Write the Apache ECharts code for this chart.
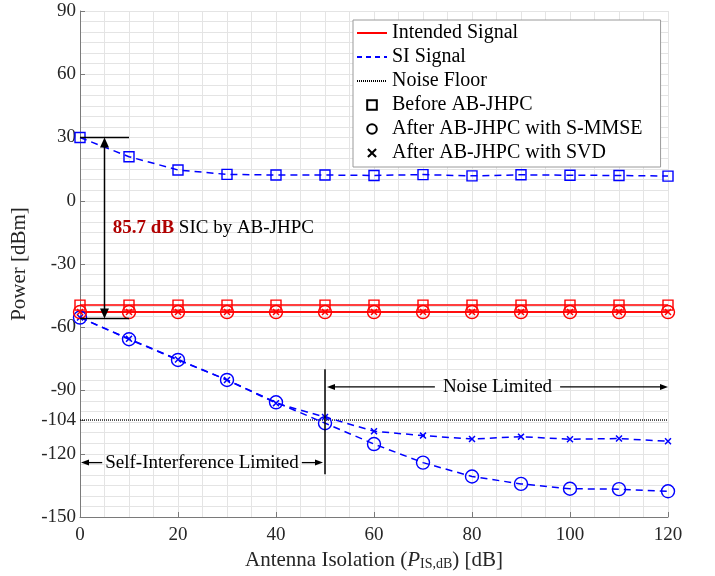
<!DOCTYPE html>
<html>
<head>
<meta charset="utf-8">
<script src="https://cdn.jsdelivr.net/npm/echarts@6/dist/echarts.min.js"></script>
<style>
html,body{margin:0;padding:0;background:#fff;}
#chart{width:715px;height:576px;}
</style>
</head>
<body>
<div id="chart"></div>
<script>
// ---------- data ----------
const isolation = [0, 10, 20, 30, 40, 50, 60, 70, 80, 90, 100, 110, 120];
const xTickLabels = [0, 20, 40, 60, 80, 100, 120];
const yTickLabels = [-150, -120, -104, -90, -60, -30, 0, 30, 60, 90];

const intendedBefore = [-49.5, -49.5, -49.5, -49.5, -49.5, -49.5, -49.5, -49.5, -49.5, -49.5, -49.5, -49.5, -49.5];
const intendedSMMSE  = [-52.8, -52.8, -52.8, -52.8, -52.8, -52.8, -52.8, -52.8, -52.8, -52.8, -52.8, -52.8, -52.8];
const intendedSVD    = [-52.8, -52.8, -52.8, -52.8, -52.8, -52.8, -52.8, -52.8, -52.8, -52.8, -52.8, -52.8, -52.8];
const siBefore = [30, 20.9, 14.6, 12.5, 12.2, 12.2, 12.0, 12.4, 11.8, 12.3, 12.1, 12.0, 11.7];
const siSMMSE  = [-55.4, -65.7, -75.5, -85.0, -95.6, -105.5, -115.4, -124.2, -130.8, -134.3, -136.6, -136.8, -137.8];
const siSVD    = [-55.4, -65.5, -75.3, -85.0, -96.0, -102.6, -109.3, -111.4, -113.0, -111.9, -113.1, -112.8, -114.1];
const noiseFloor = -104;

const legendNames = ['Intended Signal', 'SI Signal', 'Noise Floor', 'Before AB-JHPC', 'After AB-JHPC with S-MMSE', 'After AB-JHPC with SVD'];

// annotation anchors (data units)
const sicGain = '85.7 dB';
const sicTop = 30, sicBottom = -55.9, sicX = 5, sicCap = [0, 10];
const sicTextPos = [6.7, -13.1];
const boundaryX = 50, boundaryY = [-79.9, -129.7];
const noiseArrowY = -88.3, siArrowY = -124.2;

// ---------- styling ----------
const FONT = 'Liberation Serif';
const RED = '#ff0000', BLUE = '#0000ff';
const X_PATH = 'path://M0,1.5L1.5,0L5,3.5L8.5,0L10,1.5L6.5,5L10,8.5L8.5,10L5,6.5L1.5,10L0,8.5L3.5,5Z';

function pairs(ys) { return isolation.map((x, i) => [x, ys[i]]); }

function dataSeries(name, ys, color, dashed, marker) {
  const s = {
    name: name, type: 'line', data: pairs(ys), xAxisIndex: 0, yAxisIndex: 0,
    showAllSymbol: true, animation: false, z: 3,
    lineStyle: { color: color, width: 1.5, type: dashed ? [7, 5] : 'solid' },
    emphasis: { disabled: true }
  };
  if (marker === 'x') {
    s.symbol = X_PATH; s.symbolSize = 7;
    s.itemStyle = { color: color, borderWidth: 0 };
  } else if (marker === 'rect') {
    s.symbol = 'rect'; s.symbolSize = 10;
    s.itemStyle = { color: 'transparent', borderColor: color, borderWidth: 1.4 };
  } else {
    s.symbol = 'circle'; s.symbolSize = 13;
    s.itemStyle = { color: 'transparent', borderColor: color, borderWidth: 1.4 };
  }
  return s;
}

const series = [
  dataSeries('SI before', siBefore, BLUE, true, 'rect'),
  dataSeries('SI S-MMSE', siSMMSE, BLUE, true, 'circle'),
  dataSeries('SI SVD', siSVD, BLUE, true, 'x'),
  {
    name: 'Noise floor line', type: 'line', xAxisIndex: 0, yAxisIndex: 0, symbol: 'none', animation: false, z: 2,
    data: [[isolation[0], noiseFloor], [isolation[isolation.length - 1], noiseFloor]],
    lineStyle: { color: '#000', width: 1.3, type: [1, 1] }, emphasis: { disabled: true }
  },
  dataSeries('Intended before', intendedBefore, RED, false, 'rect'),
  dataSeries('Intended S-MMSE', intendedSMMSE, RED, false, 'circle'),
  dataSeries('Intended SVD', intendedSVD, RED, false, 'x'),
  // legend-only entries
  { name: legendNames[0], type: 'line', data: [], symbol: 'none', itemStyle: { color: 'transparent', borderWidth: 0 }, lineStyle: { color: RED, width: 1.5 } },
  { name: legendNames[1], type: 'line', data: [], symbol: 'none', itemStyle: { color: 'transparent', borderWidth: 0 }, lineStyle: { color: BLUE, width: 1.5, type: [5, 4] } },
  { name: legendNames[2], type: 'line', data: [], symbol: 'none', itemStyle: { color: 'transparent', borderWidth: 0 }, lineStyle: { color: '#000', width: 1, type: [1, 1] } },
  { name: legendNames[3], type: 'line', data: [], symbol: 'rect', itemStyle: { color: 'transparent', borderColor: '#000', borderWidth: 1.4 }, lineStyle: { color: '#000', width: 0, opacity: 0 } },
  { name: legendNames[4], type: 'line', data: [], symbol: 'circle', itemStyle: { color: 'transparent', borderColor: '#000', borderWidth: 1.4 }, lineStyle: { color: '#000', width: 0, opacity: 0 } },
  { name: legendNames[5], type: 'line', data: [], symbol: X_PATH, itemStyle: { color: '#000', borderWidth: 0 }, lineStyle: { color: '#000', width: 0, opacity: 0 } }
];

const labelStyle = { fontFamily: FONT, fontSize: 19, color: '#262626' };

const option = {
  animation: false,
  backgroundColor: '#fff',
  grid: { left: 80, top: 11, right: 47, bottom: 59, containLabel: false, outerBoundsMode: 'none' },
  legend: {
    orient: 'vertical', left: 353, top: 20,
    itemWidth: 30, itemHeight: 12, itemGap: 4,
    padding: [3, 18, 4, 3],
    borderColor: '#9a9a9a', borderWidth: 1, backgroundColor: '#fff',
    selectedMode: false,
    textStyle: { fontFamily: FONT, fontSize: 20, color: '#000', lineHeight: 20 },
    data: legendNames
  },
  xAxis: [
    {
      type: 'value', min: 0, max: 120, interval: 20, position: 'bottom',
      axisLine: { show: true, onZero: false, lineStyle: { color: '#7a7a7a', width: 1 } },
      axisTick: { show: true, inside: true, length: 5, lineStyle: { color: '#7a7a7a' } },
      axisLabel: Object.assign({ margin: 9 }, labelStyle),
      splitLine: { show: false },
      name: 'Antenna Isolation ({i|P}{s|IS,dB}) [dB]',
      nameLocation: 'middle', nameGap: 31,
      nameTextStyle: {
        fontFamily: FONT, fontSize: 21, color: '#262626',
        rich: {
          i: { fontFamily: FONT, fontSize: 21, fontStyle: 'italic', color: '#262626' },
          s: { fontFamily: FONT, fontSize: 14, color: '#262626', verticalAlign: 'bottom', padding: [7, 0, 0, 0] }
        }
      }
    },
    {
      type: 'value', min: 0, max: 120, interval: 5, position: 'bottom',
      axisLine: { show: false, onZero: false }, axisTick: { show: false }, axisLabel: { show: false },
      splitLine: { show: true, lineStyle: { color: '#e4e4e4', width: 1 } }
    }
  ],
  yAxis: [
    {
      type: 'value', min: -150, max: 90, interval: 30, position: 'left',
      axisLine: { show: true, onZero: false, lineStyle: { color: '#7a7a7a', width: 1 } },
      axisTick: { show: true, inside: true, length: 5, lineStyle: { color: '#7a7a7a' }, customValues: yTickLabels },
      axisLabel: Object.assign({ margin: 4, customValues: yTickLabels }, labelStyle),
      splitLine: { show: false },
      name: 'Power [dBm]', nameLocation: 'middle', nameGap: 40,
      nameTextStyle: { fontFamily: FONT, fontSize: 21, color: '#262626' }
    },
    {
      type: 'value', min: -150, max: 90, interval: 5, position: 'left',
      axisLine: { show: false, onZero: false }, axisTick: { show: false }, axisLabel: { show: false },
      splitLine: { show: true, lineStyle: { color: '#e4e4e4', width: 1 } }
    }
  ],
  series: series
};

const chart = echarts.init(document.getElementById('chart'), null, { renderer: 'canvas' });
chart.setOption(option);

// ---------- annotations placed via the chart's own scales ----------
const toPx = (x, y) => chart.convertToPixel({ xAxisIndex: 0, yAxisIndex: 0 }, [x, y]);
const measureCtx = document.createElement('canvas').getContext('2d');
function textWidth(t, size, weight) { measureCtx.font = (weight || 'normal') + ' ' + size + 'px "' + FONT + '"'; return measureCtx.measureText(t).width; }

const ANN_SIZE = 19;
const annot = [];
function addLine(a, b, w) { annot.push({ type: 'line', z: 10, shape: { x1: a[0], y1: a[1], x2: b[0], y2: b[1] }, style: { stroke: '#000', lineWidth: w || 1.5 } }); }
function addHead(tip, dir, len, half) {
  let pts;
  if (dir === 'up') pts = [[tip[0], tip[1]], [tip[0] - half, tip[1] + len], [tip[0] + half, tip[1] + len]];
  if (dir === 'down') pts = [[tip[0], tip[1]], [tip[0] - half, tip[1] - len], [tip[0] + half, tip[1] - len]];
  if (dir === 'left') pts = [[tip[0], tip[1]], [tip[0] + len, tip[1] - half], [tip[0] + len, tip[1] + half]];
  if (dir === 'right') pts = [[tip[0], tip[1]], [tip[0] - len, tip[1] - half], [tip[0] - len, tip[1] + half]];
  annot.push({ type: 'polygon', z: 10, shape: { points: pts }, style: { fill: '#000' } });
}
function addText(t, pos) {
  annot.push({ type: 'text', z: 11, x: pos[0], y: pos[1], style: { text: t, fontFamily: FONT, fontSize: ANN_SIZE, fill: '#000', verticalAlign: 'middle', align: 'center' } });
}

// SIC double arrow
const sicTopPx = toPx(sicX, sicTop), sicBotPx = toPx(sicX, sicBottom);
addLine(toPx(sicCap[0], sicTop), toPx(sicCap[1], sicTop));
addLine(toPx(sicCap[0], sicBottom), toPx(sicCap[1], sicBottom));
addLine([sicTopPx[0], sicTopPx[1] + 8], [sicBotPx[0], sicBotPx[1] - 8]);
addHead(sicTopPx, 'up', 10, 4.5);
addHead(sicBotPx, 'down', 10, 4.5);
const sicTxtPx = toPx(sicTextPos[0], sicTextPos[1]);
annot.push({
  type: 'text', z: 11, x: sicTxtPx[0], y: sicTxtPx[1],
  style: {
    text: '{b|' + sicGain + '} SIC by AB-JHPC', fontFamily: FONT, fontSize: ANN_SIZE, fill: '#000',
    verticalAlign: 'middle', align: 'left',
    rich: { b: { fontFamily: FONT, fontSize: ANN_SIZE, fontWeight: 'bold', fill: '#b00000' } }
  }
});

// boundary
addLine(toPx(boundaryX, boundaryY[0]), toPx(boundaryX, boundaryY[1]));

// Noise Limited arrow
const nlPx = toPx(boundaryX, noiseArrowY), nrPx = toPx(120, noiseArrowY);
const nLeft = [nlPx[0] + 2, nlPx[1]];
const nMid = (nLeft[0] + nrPx[0]) / 2;
const nHalf = textWidth('Noise Limited', ANN_SIZE) / 2 + 8;
addLine([nLeft[0] + 6, nLeft[1]], [nMid - nHalf, nlPx[1]], 1.3);
addLine([nMid + nHalf, nrPx[1]], [nrPx[0] - 6, nrPx[1]], 1.3);
addHead(nLeft, 'left', 8, 3);
addHead(nrPx, 'right', 8, 3);
addText('Noise Limited', [nMid, nlPx[1]]);

// Self-Interference Limited arrow
const slPx = toPx(0, siArrowY), srPx = toPx(boundaryX, siArrowY);
const sLeft = [slPx[0] + 1, slPx[1]], sRight = [srPx[0] - 2, srPx[1]];
const sMid = (sLeft[0] + sRight[0]) / 2;
const sHalf = textWidth('Self-Interference Limited', ANN_SIZE) / 2 + 3;
addLine([sLeft[0] + 6, slPx[1]], [sMid - sHalf, slPx[1]], 1.3);
addLine([sMid + sHalf, srPx[1]], [sRight[0] - 6, srPx[1]], 1.3);
addHead(sLeft, 'left', 8, 3);
addHead(sRight, 'right', 8, 3);
addText('Self-Interference Limited', [sMid, slPx[1]]);

chart.setOption({ graphic: annot });
</script>
</body>
</html>
